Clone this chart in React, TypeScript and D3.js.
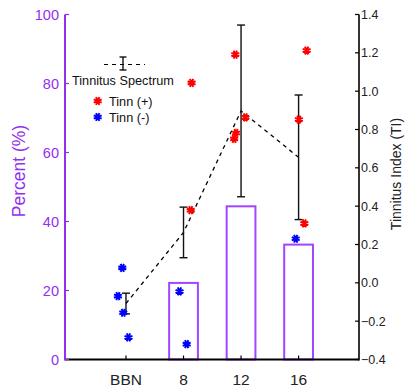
import React, { useEffect, useRef } from 'react';
import * as d3 from 'd3';

// categories on the x axis
const categories = ['BBN', '8', '12', '16'];

// percent of subjects with tinnitus (left axis), one per category
const percentTinn = [0, 22.2, 44.4, 33.3];

// tinnitus spectrum mean and error (right axis)
const spectrumMean = [-0.108, 0.263, 0.897, 0.655];
const spectrumErr = [0.054, 0.132, 0.448, 0.325];

// individual points: category index, small jitter, TI value
const tinnPosCat = [1, 1, 2, 2, 2, 2, 3, 3, 3];
const tinnPosJitter = [0.125, 0.14, -0.1, 0.075, -0.087, -0.12, 0.14, 0.005, 0.1];
const tinnPosValue = [0.379, 1.043, 1.191, 0.863, 0.782, 0.751, 1.212, 0.852, 0.31];

const tinnNegCat = [0, 0, 0, 0, 1, 1, 3];
const tinnNegJitter = [-0.064, -0.14, -0.047, 0.043, -0.07, 0.055, -0.05];
const tinnNegValue = [0.078, -0.069, -0.156, -0.285, -0.045, -0.32, 0.23];

const leftTicks = [0, 20, 40, 60, 80, 100];
const rightTicks = [-0.4, -0.2, 0, 0.2, 0.4, 0.6, 0.8, 1.0, 1.2, 1.4];

const purple = '#9330ee';
const font = 'Arial, "Liberation Sans", sans-serif';

// 8 spoke star marker
function asterisk(g: any, x: number, y: number, color: string) {
  const r = 4.3;
  const d = d3.range(4).map(i => {
    const a = (i * Math.PI) / 4 + Math.PI / 8;
    return `M${x - r * Math.cos(a)},${y - r * Math.sin(a)}L${x + r * Math.cos(a)},${y + r * Math.sin(a)}`;
  }).join('');
  g.append('path').attr('d', d).attr('stroke', color).attr('stroke-width', 2).attr('fill', 'none');
  g.append('circle').attr('cx', x).attr('cy', y).attr('r', 1.6).attr('fill', color);
}

export default function App() {
  const ref = useRef<SVGSVGElement | null>(null);

  useEffect(() => {
    const svg = d3.select(ref.current);
    svg.selectAll('*').remove();

    const left = 65, right = 359, top = 14.5, bottom = 359.5;
    const x = d3.scaleLinear().domain([-1.06, 4.05]).range([left, right]);
    const yL = d3.scaleLinear().domain([0, 100]).range([bottom, top]);
    const yR = d3.scaleLinear().domain([-0.4, 1.4]).range([bottom, top]);
    const barW = x(0.5) - x(0);

    // bars
    svg.append('g').selectAll('rect')
      .data(percentTinn.map((v, i) => ({ v, i })).filter(d => d.v > 0))
      .enter().append('rect')
      .attr('x', d => x(d.i) - barW / 2)
      .attr('y', d => yL(d.v))
      .attr('width', barW)
      .attr('height', d => bottom - yL(d.v))
      .attr('fill', 'none')
      .attr('stroke', '#a245ff')
      .attr('stroke-width', 2);

    // dashed mean line
    const line = d3.line<number>().x((d, i) => x(i)).y(d => yR(d));
    svg.append('path')
      .attr('d', line(spectrumMean))
      .attr('fill', 'none')
      .attr('stroke', '#000')
      .attr('stroke-width', 1.3)
      .attr('stroke-dasharray', '4,4');

    // error bars
    const eb = svg.append('g').attr('stroke', '#111').attr('stroke-width', 1.4);
    spectrumMean.forEach((m, i) => {
      const cx = x(i);
      const y1 = yR(m + spectrumErr[i]);
      const y2 = yR(m - spectrumErr[i]);
      eb.append('line').attr('x1', cx).attr('x2', cx).attr('y1', y1).attr('y2', y2);
      eb.append('line').attr('x1', cx - 4).attr('x2', cx + 4).attr('y1', y1).attr('y2', y1);
      eb.append('line').attr('x1', cx - 4).attr('x2', cx + 4).attr('y1', y2).attr('y2', y2);
    });

    // points
    const pts = svg.append('g');
    tinnNegValue.forEach((v, i) => asterisk(pts, x(tinnNegCat[i] + tinnNegJitter[i]), yR(v), '#0000ff'));
    tinnPosValue.forEach((v, i) => asterisk(pts, x(tinnPosCat[i] + tinnPosJitter[i]), yR(v), '#ff0000'));

    // x axis
    svg.append('line').attr('x1', left).attr('x2', right).attr('y1', bottom).attr('y2', bottom)
      .attr('stroke', '#000').attr('stroke-width', 2);
    categories.forEach((c, i) => {
      svg.append('line').attr('x1', x(i)).attr('x2', x(i)).attr('y1', bottom).attr('y2', bottom - 4)
        .attr('stroke', '#000').attr('stroke-width', 1.2);
      svg.append('text').attr('x', x(i)).attr('y', 385).attr('text-anchor', 'middle')
        .attr('font-family', font).attr('font-size', 15.5).attr('fill', '#222').text(c);
    });

    // left axis
    svg.append('line').attr('x1', left).attr('x2', left).attr('y1', top).attr('y2', bottom + 1)
      .attr('stroke', purple).attr('stroke-width', 2);
    leftTicks.forEach(t => {
      svg.append('line').attr('x1', left).attr('x2', left + 4).attr('y1', yL(t)).attr('y2', yL(t))
        .attr('stroke', purple).attr('stroke-width', 1.2);
      svg.append('text').attr('x', 59).attr('y', yL(t)).attr('dy', '0.36em').attr('text-anchor', 'end')
        .attr('font-family', font).attr('font-size', 14.5).attr('fill', purple).text(t);
    });
    svg.append('text').attr('transform', 'translate(25,171) rotate(-90)').attr('text-anchor', 'middle')
      .attr('font-family', font).attr('font-size', 17.5).attr('fill', purple).text('Percent (%)');

    // right axis
    svg.append('line').attr('x1', right).attr('x2', right).attr('y1', top).attr('y2', bottom + 1)
      .attr('stroke', '#000').attr('stroke-width', 1.6);
    rightTicks.forEach(t => {
      svg.append('line').attr('x1', right - 4).attr('x2', right).attr('y1', yR(t)).attr('y2', yR(t))
        .attr('stroke', '#000').attr('stroke-width', 1.2);
      svg.append('text').attr('x', 361).attr('y', yR(t)).attr('dy', '0.36em')
        .attr('font-family', font).attr('font-size', 12.5).attr('fill', '#222').text(d3.format('.1f')(t));
    });
    svg.append('text').attr('transform', 'translate(401,174) rotate(-90)').attr('text-anchor', 'middle')
      .attr('font-family', font).attr('font-size', 14).attr('fill', '#222').text('Tinnitus Index (TI)');

    // legend
    const lg = svg.append('g');
    lg.append('line').attr('x1', 104).attr('x2', 145).attr('y1', 64.5).attr('y2', 64.5)
      .attr('stroke', '#000').attr('stroke-width', 1.2).attr('stroke-dasharray', '4,4');
    lg.append('line').attr('x1', 123).attr('x2', 123).attr('y1', 57).attr('y2', 70).attr('stroke', '#000').attr('stroke-width', 1.3);
    lg.append('line').attr('x1', 119.5).attr('x2', 126.5).attr('y1', 57).attr('y2', 57).attr('stroke', '#000').attr('stroke-width', 1.3);
    lg.append('line').attr('x1', 119.5).attr('x2', 126.5).attr('y1', 70).attr('y2', 70).attr('stroke', '#000').attr('stroke-width', 1.3);
    lg.append('text').attr('x', 72).attr('y', 85).attr('font-family', font).attr('font-size', 12.7)
      .attr('fill', '#111').text('Tinnitus Spectrum');
    asterisk(lg, 97.7, 101, '#ff0000');
    asterisk(lg, 97.7, 117, '#0000ff');
    lg.append('text').attr('x', 109).attr('y', 101).attr('dy', '0.36em').attr('font-family', font)
      .attr('font-size', 12.7).attr('fill', '#111').text('Tinn (+)');
    lg.append('text').attr('x', 109).attr('y', 117).attr('dy', '0.36em').attr('font-family', font)
      .attr('font-size', 12.7).attr('fill', '#111').text('Tinn (-)');
  }, []);

  return (
    <svg ref={ref} width={413} height={391}
      style={{ position: 'absolute', left: 0, top: 0, background: '#fff' }} />
  );
}
